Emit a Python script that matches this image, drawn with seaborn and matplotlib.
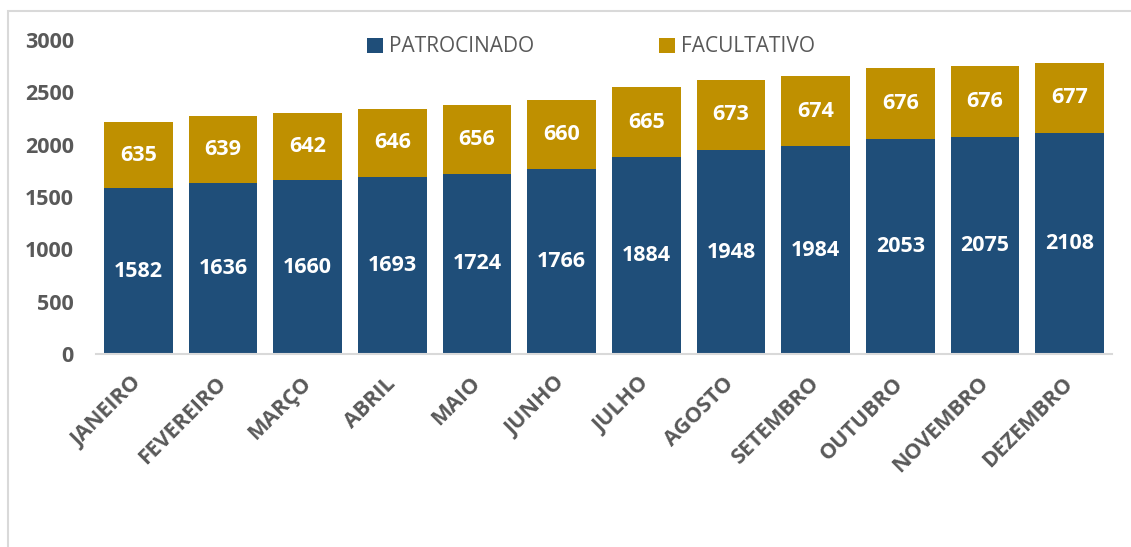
import matplotlib
matplotlib.use("Agg")
import matplotlib.pyplot as plt
import seaborn as sns
import pandas as pd
from matplotlib.patches import Patch, Rectangle

months = ["JANEIRO", "FEVEREIRO", "MARÇO", "ABRIL", "MAIO", "JUNHO", "JULHO",
          "AGOSTO", "SETEMBRO", "OUTUBRO", "NOVEMBRO", "DEZEMBRO"]
patrocinado = [1582, 1636, 1660, 1693, 1724, 1766, 1884, 1948, 1984, 2053, 2075, 2108]
facultativo = [635, 639, 642, 646, 656, 660, 665, 673, 674, 676, 676, 677]
yticks = [0, 500, 1000, 1500, 2000, 2500, 3000]

BLUE = "#1F4E79"
GOLD = "#BF9000"
GRAY = "#595959"
LINE = "#D9D9D9"

sns.set_theme(style="white")
plt.rcParams["font.family"] = ["Open Sans", "DejaVu Sans"]

df = pd.DataFrame({"mes": months, "pat": patrocinado, "fac": facultativo})
df["total"] = df["pat"] + df["fac"]

fig = plt.figure(figsize=(11.31, 5.47), dpi=100)
ax = fig.add_axes([96 / 1131, 1 - 354 / 547, (1112 - 96) / 1131, (354 - 40) / 547])

sns.barplot(data=df, x="mes", y="total", color=GOLD, saturation=1, width=0.81,
            errorbar=None, ax=ax, edgecolor="none")
sns.barplot(data=df, x="mes", y="pat", color=BLUE, saturation=1, width=0.81,
            errorbar=None, ax=ax, edgecolor="none")

ax.set_xlim(-0.5, len(months) - 0.5)
ax.set_ylim(0, 3000)
ax.set_yticks(yticks)
ax.set_xlabel("")
ax.set_ylabel("")

FS = 15.5
for i, (p, f) in enumerate(zip(patrocinado, facultativo)):
    ax.text(i, p / 2, str(p), ha="center", va="center", color="white",
            fontsize=FS, fontweight="bold")
    ax.text(i, p + f / 2, str(f), ha="center", va="center", color="white",
            fontsize=FS, fontweight="bold")

for s in ["top", "right", "left"]:
    ax.spines[s].set_visible(False)
ax.spines["bottom"].set_color(LINE)
ax.spines["bottom"].set_linewidth(1.5)

ax.tick_params(axis="y", length=0, pad=16, labelsize=FS, labelcolor=GRAY)
ax.tick_params(axis="x", length=0, pad=19, labelsize=FS, labelcolor=GRAY)
for lab in ax.get_yticklabels():
    lab.set_fontweight("bold")
for lab in ax.get_xticklabels():
    lab.set_fontweight("bold")
    lab.set_rotation(45)
    lab.set_ha("right")
    lab.set_va("center")
    lab.set_rotation_mode("anchor")

handles = [Patch(facecolor=BLUE, edgecolor="none", label="PATROCINADO"),
           Patch(facecolor=GOLD, edgecolor="none", label="FACULTATIVO")]
leg = fig.legend(handles=handles, loc="center", bbox_to_anchor=(591 / 1131, 1 - 47 / 547),
                 ncol=2, frameon=False, fontsize=15, handlelength=0.75, handleheight=0.75,
                 handletextpad=0.3, columnspacing=6.0, borderaxespad=0)
for t in leg.get_texts():
    t.set_color(GRAY)

# outer chart frame (partially visible)
fig.patches.append(Rectangle((8 / 1131, -0.05), 1.2, 1 - 10.5 / 547 + 0.05,
                             transform=fig.transFigure, fill=False,
                             edgecolor=LINE, linewidth=1.5, zorder=0))

fig.savefig("out.png", dpi=100)
